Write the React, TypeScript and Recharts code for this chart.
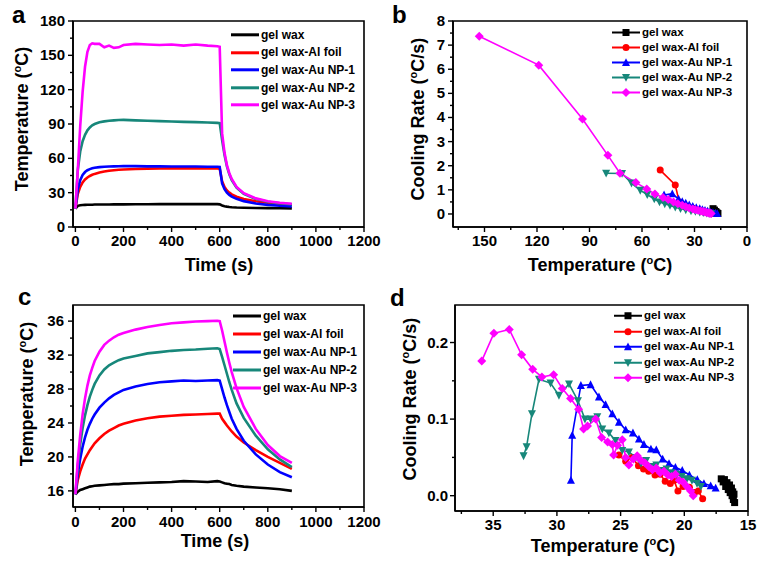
import React from 'react';
import { LineChart, Line, XAxis, YAxis, Legend, ReferenceArea } from 'recharts';

const FONT = '"Liberation Sans", Arial, Helvetica, sans-serif';

const NAMES = ['gel wax', 'gel wax-Al foil', 'gel wax-Au NP-1', 'gel wax-Au NP-2', 'gel wax-Au NP-3'];
const COLORS = ['#000000', '#ff0000', '#0000ff', '#17877a', '#ff00ff'];
const SHAPES = ['square', 'circle', 'up', 'down', 'diamond'];

// time axis shared by panels a and c (s)
const timeS = [0, 10, 20, 30, 40, 50, 60, 70, 80, 100, 120, 140, 160, 180, 200, 250, 300, 350, 400, 450, 500, 550, 590, 600, 610, 620, 630, 640, 650, 670, 700, 750, 800, 850, 900];

// panel a: temperature (°C)
const aWax = [16, 18.5, 19, 19.2, 19.3, 19.4, 19.5, 19.5, 19.6, 19.6, 19.7, 19.7, 19.8, 19.8, 19.8, 19.9, 19.9, 20, 20, 20, 20, 20, 20, 19.8, 18.8, 18.2, 17.8, 17.5, 17.3, 17.0, 16.8, 16.6, 16.5, 16.4, 16.3];
const aAl = [16, 29, 35, 39, 41.5, 43.3, 44.6, 45.6, 46.4, 47.6, 48.5, 49.1, 49.6, 50, 50.3, 50.7, 51, 51.1, 51.2, 51.2, 51.2, 51.2, 51.2, 51, 40, 35, 32, 30, 28.5, 26.5, 24.5, 22.5, 21.2, 20.3, 19.6];
const aNp1 = [16, 33, 41, 45.5, 48, 49.6, 50.6, 51.3, 51.8, 52.3, 52.6, 52.8, 53, 53.1, 53.2, 53.2, 53, 53, 52.9, 52.8, 52.8, 52.7, 52.7, 52.5, 38, 33, 30, 28, 26.6, 24.6, 22.6, 20.6, 19.3, 18.6, 18];
const aNp2 = [16, 50, 66, 75, 80.5, 84.5, 87, 88.8, 90, 91.5, 92.3, 92.8, 93.2, 93.5, 93.6, 93.2, 92.8, 92.5, 92.2, 91.9, 91.6, 91.3, 91, 90.8, 76, 63, 53, 46, 41, 34.5, 29, 24.5, 22, 20.7, 19.8];
const aNp3 = [16, 50, 88, 118, 140, 153, 159, 160.5, 160, 160, 157, 158.5, 156.5, 157, 159, 160, 159.5, 159, 159.5, 158.5, 159.5, 158.5, 158, 157.5, 82, 65, 54, 47, 42, 35, 29.5, 25, 22.5, 21.2, 20.3];

// panel c: temperature (°C)
const cWax = [15.6, 15.9, 16.1, 16.2, 16.3, 16.4, 16.5, 16.55, 16.6, 16.65, 16.7, 16.75, 16.8, 16.8, 16.85, 16.9, 16.95, 17, 17.05, 17.15, 17.1, 17.05, 17.15, 17.1, 17.0, 16.9, 16.85, 16.8, 16.7, 16.6, 16.5, 16.4, 16.3, 16.2, 16.0];
const cAl = [15.6, 17.3, 18.3, 19.1, 19.8, 20.3, 20.8, 21.2, 21.6, 22.2, 22.7, 23.1, 23.4, 23.7, 23.9, 24.3, 24.55, 24.75, 24.85, 24.95, 25, 25.05, 25.1, 25.1, 24.5, 24.1, 23.7, 23.35, 23.0, 22.4, 21.7, 20.8, 20.0, 19.3, 18.6];
const cNp1 = [15.6, 18.0, 19.8, 21.2, 22.3, 23.2, 23.9, 24.5, 25.0, 25.8, 26.4, 26.9, 27.3, 27.6, 27.9, 28.3, 28.6, 28.8, 28.9, 29.0, 28.95, 29.0, 29.05, 29.0, 28.0, 27.0, 26.1, 25.3, 24.5, 23.3, 21.9, 20.3, 19.1, 18.2, 17.6];
const cNp2 = [15.6, 19.0, 21.5, 23.4, 24.9, 26.1, 27.1, 27.9, 28.6, 29.6, 30.3, 30.8, 31.1, 31.4, 31.6, 31.9, 32.2, 32.35, 32.5, 32.6, 32.65, 32.75, 32.8, 32.7, 31.8, 30.8, 29.8, 28.8, 27.9, 26.3, 24.6, 22.5, 20.9, 19.7, 18.8];
const cNp3 = [15.6, 19.6, 22.6, 25.0, 26.9, 28.4, 29.6, 30.5, 31.3, 32.4, 33.2, 33.7, 34.1, 34.4, 34.6, 35.0, 35.3, 35.55, 35.75, 35.85, 35.95, 36.0, 36.05, 36.0, 34.9, 33.6, 32.3, 31.1, 30.0, 28.1, 25.9, 23.3, 21.4, 20.1, 19.3];

// panel b: cooling rate (°C/s) vs temperature (°C)
const bWaxT = [19.4, 18.6, 17.8, 17.2, 16.6];
const bWaxR = [0.22, 0.16, 0.1, 0.05, 0.02];
const bAlT = [49.6, 41, 38.7, 36, 33.5, 31, 29, 27, 25, 23.5, 22, 21, 20];
const bAlR = [1.82, 1.2, 0.5, 0.36, 0.3, 0.24, 0.19, 0.15, 0.11, 0.08, 0.05, 0.03, 0.02];
const bNp1T = [47.4, 42.7, 39.1, 37, 35, 33, 31, 29, 27, 25.5, 24, 22.5, 21, 19.5, 18, 17];
const bNp1R = [0.79, 0.84, 0.62, 0.52, 0.45, 0.38, 0.32, 0.27, 0.22, 0.18, 0.15, 0.12, 0.09, 0.06, 0.04, 0.02];
const bNp2T = [80.5, 71.4, 66, 61, 57, 53, 50, 47, 44, 41, 38, 35, 32, 29.5, 27, 25, 23, 21.5, 20.5];
const bNp2R = [1.69, 1.68, 1.28, 0.98, 0.8, 0.62, 0.5, 0.42, 0.35, 0.28, 0.22, 0.17, 0.13, 0.1, 0.07, 0.05, 0.03, 0.02, 0.01];
const bNp3T = [153, 119, 94, 79.5, 72.6, 63.5, 57.3, 52.6, 48, 45, 42, 39.5, 37, 35, 33, 31, 29.5, 28, 26.5, 25.2, 24, 23, 22, 21.2, 20.5];
const bNp3R = [7.37, 6.17, 3.94, 2.43, 1.69, 1.3, 1.04, 0.83, 0.68, 0.6, 0.5, 0.42, 0.36, 0.3, 0.25, 0.21, 0.18, 0.15, 0.12, 0.1, 0.08, 0.06, 0.04, 0.03, 0.02];

// panel d: cooling rate (°C/s) vs temperature (°C)
const dWaxT = [17.1, 16.95, 16.85, 16.75, 16.65, 16.55, 16.45, 16.4, 16.3, 16.25, 16.2, 16.15, 16.1, 16.05];
const dWaxR = [0.022, 0.018, 0.021, 0.012, 0.017, 0.008, 0.014, 0.004, 0.01, 0.0, 0.005, -0.005, 0.002, -0.009];
const dAlT = [25.13, 24.6, 24.1, 23.6, 23.2, 22.8, 22.3, 21.9, 21.5, 21.1, 20.8, 20.5, 20.1, 19.6, 19.2, 18.9, 18.56];
const dAlR = [0.053, 0.045, 0.05, 0.039, 0.035, 0.032, 0.027, 0.028, 0.019, 0.016, 0.02, 0.006, 0.012, 0.011, 0.004, 0.006, -0.004];
const dNp1T = [28.9, 28.8, 28.12, 27.36, 26.7, 26.18, 25.65, 25.13, 24.6, 24.03, 23.56, 23.17, 22.62, 22.2, 21.7, 21.2, 20.7, 20.16, 19.6, 18.98, 18.46, 17.93, 17.54];
const dNp1R = [0.02, 0.079, 0.144, 0.145, 0.129, 0.119, 0.107, 0.096, 0.086, 0.082, 0.074, 0.067, 0.061, 0.06, 0.048, 0.042, 0.037, 0.033, 0.027, 0.021, 0.016, 0.013, 0.01];
const dNp2T = [32.62, 32.38, 31.96, 31.41, 30.5, 29.84, 29.05, 28.35, 27.8, 27.36, 26.83, 26.44, 25.92, 25.4, 24.87, 24.35, 23.8, 23.4, 23.0, 22.6, 22.2, 21.8, 21.4, 21.0, 20.6, 20.2, 19.8, 19.4, 19.0, 18.7];
const dNp2R = [0.052, 0.064, 0.107, 0.152, 0.147, 0.131, 0.146, 0.124, 0.1, 0.1, 0.103, 0.087, 0.082, 0.072, 0.059, 0.057, 0.05, 0.042, 0.046, 0.038, 0.04, 0.033, 0.035, 0.03, 0.028, 0.025, 0.022, 0.02, 0.016, 0.012];
const dNp3T = [35.9, 34.95, 33.74, 32.77, 31.9, 31.18, 30.26, 29.58, 28.93, 28.3, 27.91, 27.6, 26.96, 26.49, 26.02, 25.65, 25.55, 25.24, 24.87, 24.6, 24.35, 24.0, 23.7, 23.4, 23.1, 22.8, 22.5, 22.2, 21.9, 21.6, 21.3, 21.0, 20.7, 20.4, 20.1, 19.8, 19.5, 19.3];
const dNp3R = [0.176, 0.212, 0.217, 0.184, 0.165, 0.155, 0.158, 0.14, 0.127, 0.113, 0.087, 0.091, 0.1, 0.076, 0.07, 0.067, 0.053, 0.066, 0.073, 0.05, 0.04, 0.048, 0.052, 0.046, 0.043, 0.038, 0.034, 0.036, 0.03, 0.032, 0.027, 0.025, 0.028, 0.02, 0.018, 0.012, 0.006, 0.0];

// tick values
const timeMajor = [0, 200, 400, 600, 800, 1000, 1200];
const timeMinor = [100, 300, 500, 700, 900, 1100];
const aYMajor = [0, 30, 60, 90, 120, 150, 180];
const aYMinor = [15, 45, 75, 105, 135, 165];
const bXMajor = [0, 30, 60, 90, 120, 150];
const bXMinor = [15, 45, 75, 105, 135, 165];
const bYMajor = [0, 1, 2, 3, 4, 5, 6, 7, 8];
const bYMinor = [0.5, 1.5, 2.5, 3.5, 4.5, 5.5, 6.5, 7.5];
const cYMajor = [16, 20, 24, 28, 32, 36];
const cYMinor = [18, 22, 26, 30, 34];
const dXMajor = [15, 20, 25, 30, 35];
const dXMinor = [17.5, 22.5, 27.5, 32.5, 37.5];
const dYMajor = [0, 0.1, 0.2];
const dYMinor = [0.05, 0.15];

type Pt = { x: number; y: number };
const zip = (xs: number[], ys: number[]): Pt[] => xs.map((x, i) => ({ x, y: ys[i] }));

const seriesA = [aWax, aAl, aNp1, aNp2, aNp3].map(v => zip(timeS, v));
const seriesC = [cWax, cAl, cNp1, cNp2, cNp3].map(v => zip(timeS, v));
const seriesB = [zip(bWaxT, bWaxR), zip(bAlT, bAlR), zip(bNp1T, bNp1R), zip(bNp2T, bNp2R), zip(bNp3T, bNp3R)];
const seriesD = [zip(dWaxT, dWaxR), zip(dAlT, dAlR), zip(dNp1T, dNp1R), zip(dNp2T, dNp2R), zip(dNp3T, dNp3R)];

function Marker({ shape, cx, cy, color, s }: { shape: string; cx: number; cy: number; color: string; s: number }) {
  if (cx == null || cy == null || isNaN(cx) || isNaN(cy)) return <g />;
  const h = s / 2;
  if (shape === 'square') return <rect x={cx - h} y={cy - h} width={s} height={s} fill={color} />;
  if (shape === 'circle') return <circle cx={cx} cy={cy} r={h} fill={color} />;
  if (shape === 'up') return <polygon points={`${cx},${cy - h - 0.8} ${cx - h - 0.5},${cy + h} ${cx + h + 0.5},${cy + h}`} fill={color} />;
  if (shape === 'down') return <polygon points={`${cx},${cy + h + 0.8} ${cx - h - 0.5},${cy - h} ${cx + h + 0.5},${cy - h}`} fill={color} />;
  return <polygon points={`${cx},${cy - h - 1} ${cx + h + 1},${cy} ${cx},${cy + h + 1} ${cx - h - 1},${cy}`} fill={color} />;
}

const isIn = (v: number, list: number[]) => list.some(m => Math.abs(m - v) < 1e-6);

const Degree = ({ rest }: { rest: string }) => (
  <>
    (<tspan dy={-7} fontSize={11}>o</tspan>
    <tspan dy={7}>{rest}</tspan>
  </>
);

type PanelProps = {
  left: number;
  top: number;
  frame: [number, number, number, number];
  xDomain: [number, number];
  yDomain: [number, number];
  reversed?: boolean;
  xMajor: number[];
  xMinor: number[];
  yMajor: number[];
  yMinor: number[];
  yFmt?: (v: number) => string;
  xLabelDy: number;
  yLabelDx: number;
  xTitle: React.ReactNode;
  xTitlePos: [number, number];
  yTitle: React.ReactNode;
  yTitlePos: [number, number];
  letter: string;
  letterPos: [number, number];
  legendPos: [number, number];
  legendRow: number;
  legendFont: number;
  markers: boolean;
  series: Pt[][];
};

function Panel(p: PanelProps) {
  const W = 382;
  const H = 282;
  const [fl, ft, fr, fb] = p.frame;
  const margin = { top: ft - p.top, right: p.left + W - fr, bottom: 0, left: 0 };
  const yw = fl - p.left;
  const xh = p.top + H - fb;
  const axisLine = { stroke: '#000', strokeWidth: 1.6 };
  const fmtY = p.yFmt || ((v: number) => String(v));
  const textStyle = { fontFamily: FONT, fontWeight: 700 as const, fill: '#000' };

  const xTick = (t: any) => {
    const major = isIn(t.payload.value, p.xMajor);
    return (
      <g>
        <line x1={t.x} x2={t.x} y1={t.y} y2={t.y + (major ? 5 : 3)} stroke="#000" strokeWidth={1.4} />
        {major && (
          <text x={t.x} y={t.y + p.xLabelDy} textAnchor="middle" fontSize={15} {...textStyle}>
            {t.payload.value}
          </text>
        )}
      </g>
    );
  };
  const yTick = (t: any) => {
    const major = isIn(t.payload.value, p.yMajor);
    return (
      <g>
        <line x1={t.x} x2={t.x - (major ? 5 : 3)} y1={t.y} y2={t.y} stroke="#000" strokeWidth={1.4} />
        {major && (
          <text x={t.x - p.yLabelDx} y={t.y + 5} textAnchor="end" fontSize={15} {...textStyle}>
            {fmtY(t.payload.value)}
          </text>
        )}
      </g>
    );
  };

  const xTitle = () => (
    <text x={p.xTitlePos[0] - p.left} y={p.xTitlePos[1] - p.top} textAnchor="middle" fontSize={18} {...textStyle}>
      {p.xTitle}
    </text>
  );
  const yTitle = () => {
    const x = p.yTitlePos[0] - p.left;
    const y = p.yTitlePos[1] - p.top;
    return (
      <text x={x} y={y} transform={`rotate(-90 ${x} ${y})`} textAnchor="middle" fontSize={18} {...textStyle}>
        {p.yTitle}
      </text>
    );
  };
  const letter = () => (
    <text x={p.letterPos[0] - p.left} y={p.letterPos[1] - p.top} fontSize={24} {...textStyle}>
      {p.letter}
    </text>
  );

  const legend = () => (
    <div style={{ fontFamily: FONT, fontWeight: 700, fontSize: p.legendFont, color: '#000' }}>
      {NAMES.map((n, i) => (
        <div key={n} style={{ display: 'flex', alignItems: 'center', height: p.legendRow, whiteSpace: 'nowrap' }}>
          <svg width={28} height={p.legendRow} style={{ display: 'block' }}>
            <line x1={0} x2={28} y1={p.legendRow / 2} y2={p.legendRow / 2} stroke={COLORS[i]} strokeWidth={p.markers ? 2 : 3} />
            {p.markers && <Marker shape={SHAPES[i]} cx={14} cy={p.legendRow / 2} color={COLORS[i]} s={7} />}
          </svg>
          <span style={{ marginLeft: 2, lineHeight: 1 }}>{n}</span>
        </div>
      ))}
    </div>
  );

  return (
    <div style={{ position: 'absolute', left: p.left, top: p.top, width: W, height: H }}>
      <LineChart width={W} height={H} margin={margin}>
        <XAxis
          xAxisId="b"
          type="number"
          dataKey="x"
          domain={p.xDomain}
          reversed={p.reversed}
          allowDataOverflow
          ticks={[...p.xMajor, ...p.xMinor]}
          interval={0}
          tickSize={0}
          tickMargin={0}
          tickLine={false}
          axisLine={axisLine}
          tick={xTick}
          height={xh}
          label={xTitle}
        />
        <YAxis
          yAxisId="l"
          type="number"
          domain={p.yDomain}
          allowDataOverflow
          ticks={[...p.yMajor, ...p.yMinor]}
          interval={0}
          tickSize={0}
          tickMargin={0}
          tickLine={false}
          axisLine={axisLine}
          tick={yTick}
          width={yw}
          label={yTitle}
        />
        <ReferenceArea
          xAxisId="b"
          yAxisId="l"
          x1={p.xDomain[0]}
          x2={p.xDomain[1]}
          y1={p.yDomain[0]}
          y2={p.yDomain[1]}
          fill="#fff"
          fillOpacity={0}
          stroke="#000"
          strokeWidth={1.6}
          ifOverflow="visible"
          label={letter}
        />
        <Legend
          layout="vertical"
          align="center"
          verticalAlign="middle"
          content={legend}
          wrapperStyle={{ left: p.legendPos[0] - p.left, top: p.legendPos[1] - p.top, width: 'auto', height: 'auto' }}
        />
        {p.series.map((d, i) => (
          <Line
            key={NAMES[i]}
            xAxisId="b"
            yAxisId="l"
            data={d}
            dataKey="y"
            name={NAMES[i]}
            type="linear"
            stroke={COLORS[i]}
            strokeWidth={p.markers ? 1.6 : 2.6}
            dot={p.markers ? (props: any) => <Marker key={props.index} shape={SHAPES[i]} cx={props.cx} cy={props.cy} color={COLORS[i]} s={7} /> : false}
            activeDot={false}
            isAnimationActive={false}
          />
        ))}
      </LineChart>
    </div>
  );
}

export default function App() {
  return (
    <div style={{ position: 'fixed', left: 0, top: 0, width: 764, height: 564, background: '#fff' }}>
      <Panel
        left={0}
        top={0}
        frame={[73, 21, 364, 227]}
        xDomain={[-10, 1200]}
        yDomain={[0, 180]}
        xMajor={timeMajor}
        xMinor={timeMinor}
        yMajor={aYMajor}
        yMinor={aYMinor}
        xLabelDy={19}
        yLabelDx={8}
        xTitle="Time (s)"
        xTitlePos={[219, 271]}
        yTitle={<>Temperature <Degree rest="C)" /></>}
        yTitlePos={[28, 119]}
        letter="a"
        letterPos={[12, 23]}
        legendPos={[231, 26]}
        legendRow={17.6}
        legendFont={12}
        markers={false}
        series={seriesA}
      />
      <Panel
        left={382}
        top={0}
        frame={[453, 21, 747, 227]}
        xDomain={[0, 168]}
        yDomain={[-0.54, 8]}
        reversed
        xMajor={bXMajor}
        xMinor={bXMinor}
        yMajor={bYMajor}
        yMinor={bYMinor}
        xLabelDy={19}
        yLabelDx={8}
        xTitle={<>Temperature <Degree rest="C)" /></>}
        xTitlePos={[600, 271]}
        yTitle={<>Cooling Rate <Degree rest="C/s)" /></>}
        yTitlePos={[424, 119]}
        letter="b"
        letterPos={[392, 23]}
        legendPos={[612, 25]}
        legendRow={15}
        legendFont={11.5}
        markers
        series={seriesB}
      />
      <Panel
        left={0}
        top={282}
        frame={[73, 305, 364, 507]}
        xDomain={[-10, 1200]}
        yDomain={[14.1, 37.9]}
        xMajor={timeMajor}
        xMinor={timeMinor}
        yMajor={cYMajor}
        yMinor={cYMinor}
        xLabelDy={20}
        yLabelDx={9}
        xTitle="Time (s)"
        xTitlePos={[215, 547]}
        yTitle={<>Temperature <Degree rest="C)" /></>}
        yTitlePos={[33, 394]}
        letter="c"
        letterPos={[18, 305]}
        legendPos={[233, 307]}
        legendRow={18}
        legendFont={12}
        markers={false}
        series={seriesC}
      />
      <Panel
        left={382}
        top={282}
        frame={[455, 305, 748, 511]}
        xDomain={[15, 38]}
        yDomain={[-0.02, 0.249]}
        reversed
        xMajor={dXMajor}
        xMinor={dXMinor}
        yMajor={dYMajor}
        yMinor={dYMinor}
        yFmt={(v: number) => v.toFixed(1)}
        xLabelDy={19}
        yLabelDx={7}
        xTitle={<>Temperature <Degree rest="C)" /></>}
        xTitlePos={[603, 552]}
        yTitle={<>Cooling Rate <Degree rest="C/s)" /></>}
        yTitlePos={[416, 399]}
        letter="d"
        letterPos={[390, 306]}
        legendPos={[614, 308]}
        legendRow={15.5}
        legendFont={11.5}
        markers
        series={seriesD}
      />
    </div>
  );
}
